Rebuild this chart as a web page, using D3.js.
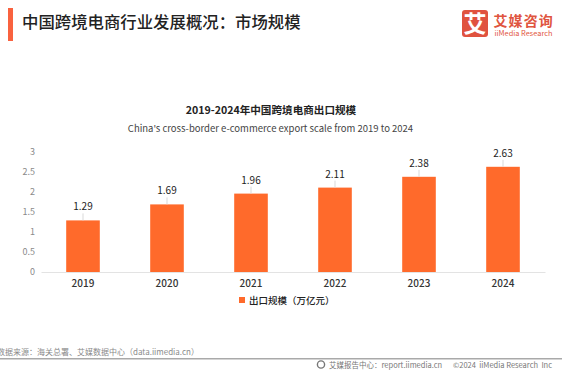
<!DOCTYPE html>
<html>
<head>
<meta charset="utf-8">
<script src="https://cdn.jsdelivr.net/npm/d3@7"></script>
<style>
html, body { margin: 0; padding: 0; background: #fff; }
svg { display: block; }
text { font-family: "Noto Sans CJK SC", "Noto Sans", sans-serif; white-space: pre; }
</style>
</head>
<body>
<div id="chart"></div>
<script>
var years = ['2019', '2020', '2021', '2022', '2023', '2024'];
var exportScale = [1.29, 1.69, 1.96, 2.11, 2.38, 2.63];
var yTicks = [0, 0.5, 1, 1.5, 2, 2.5, 3];

var pageTitle = '中国跨境电商行业发展概况：市场规模';
var chartTitle = '2019-2024年中国跨境电商出口规模';
var chartSubtitle = "China's cross-border e-commerce export scale from 2019 to 2024";
var legendLabel = '出口规模（万亿元）';
var sourceText = '数据来源：海关总署、艾媒数据中心（data.iimedia.cn）';
var footerText = '艾媒报告中心：report.iimedia.cn';
var copyrightText = '©2024  iiMedia Research  Inc';

var width = 562, height = 373;
var orange = '#ff6a2b';

var svg = d3.select('#chart').append('svg')
    .attr('width', width)
    .attr('height', height);

// page header
svg.append('rect').attr('x', 8).attr('y', 8).attr('width', 5).attr('height', 33).attr('fill', '#f9623f');
svg.append('text').attr('x', 22).attr('y', 28)
    .attr('font-size', 16.4).attr('font-weight', 500).attr('fill', '#222')
    .text(pageTitle);

// logo
svg.append('rect').attr('x', 462).attr('y', 10).attr('width', 26).attr('height', 27).attr('rx', 3).attr('fill', '#e0523f');
svg.append('text').attr('x', 475).attr('y', 32).attr('text-anchor', 'middle')
    .attr('font-size', 23).attr('font-weight', 700).attr('fill', '#fff').text('艾');
svg.append('text').attr('x', 493.5).attr('y', 25.5)
    .attr('font-size', 14).attr('font-weight', 700).attr('letter-spacing', 1.1).attr('fill', '#df5540').text('艾媒咨询');
svg.append('text').attr('x', 494.5).attr('y', 35.5)
    .attr('font-size', 7.4).attr('fill', '#df5540').text('iiMedia Research');

// chart titles
svg.append('text').attr('x', 271).attr('y', 114).attr('text-anchor', 'middle')
    .attr('font-size', 10.6).attr('font-weight', 700).attr('fill', '#222').text(chartTitle);
svg.append('text').attr('x', 270.5).attr('y', 132).attr('text-anchor', 'middle')
    .attr('font-size', 9.5).attr('fill', '#444').text(chartSubtitle);

var x = d3.scaleBand().domain(years).range([41, 545]).paddingInner(0.6).paddingOuter(0.3);
var y = d3.scaleLinear().domain([0, 3]).range([272, 152]);

// axes
var xAxis = svg.append('g')
    .attr('transform', 'translate(0,272)')
    .call(d3.axisBottom(x).tickSize(0).tickPadding(8));
xAxis.select('.domain').attr('stroke', '#e3e3e3');
xAxis.selectAll('text').attr('font-size', 10).attr('font-weight', 500).attr('fill', '#333')
    .style('font-family', '"Noto Sans CJK SC", "Noto Sans", sans-serif');

var yAxis = svg.append('g')
    .attr('transform', 'translate(35,0)')
    .call(d3.axisLeft(y).tickValues(yTicks).tickFormat(d3.format('')).tickSize(0).tickPadding(0));
yAxis.select('.domain').remove();
yAxis.selectAll('text').attr('font-size', 9).attr('fill', '#8a8a8a')
    .style('font-family', '"Noto Sans CJK SC", "Noto Sans", sans-serif');

// bars
svg.selectAll('.bar').data(exportScale).enter().append('rect')
    .attr('class', 'bar')
    .attr('x', function (d, i) { return x(years[i]); })
    .attr('y', function (d) { return y(d); })
    .attr('width', x.bandwidth())
    .attr('height', function (d) { return y(0) - y(d); })
    .attr('fill', orange);

// leader lines + labels
svg.selectAll('.leader').data(exportScale).enter().append('line')
    .attr('class', 'leader')
    .attr('x1', function (d, i) { return x(years[i]) + x.bandwidth() / 2; })
    .attr('x2', function (d, i) { return x(years[i]) + x.bandwidth() / 2; })
    .attr('y1', function (d) { return y(d); })
    .attr('y2', function (d) { return y(d) - 7; })
    .attr('stroke', '#d9d9d9');

svg.selectAll('.value').data(exportScale).enter().append('text')
    .attr('class', 'value')
    .attr('x', function (d, i) { return x(years[i]) + x.bandwidth() / 2; })
    .attr('y', function (d) { return y(d) - 10; })
    .attr('text-anchor', 'middle')
    .attr('font-size', 10).attr('fill', '#222')
    .text(function (d) { return d3.format('.2f')(d); });

// legend
svg.append('rect').attr('x', 239).attr('y', 297).attr('width', 6).attr('height', 6).attr('fill', orange);
svg.append('text').attr('x', 249).attr('y', 303.5)
    .attr('font-size', 9.5).attr('font-weight', 500).attr('fill', '#222').text(legendLabel);

// footer
svg.append('text').attr('x', -3).attr('y', 355)
    .attr('font-size', 8).attr('fill', '#8a8a8a').text(sourceText);
svg.append('rect').attr('x', 0).attr('y', 358).attr('width', width).attr('height', 1.5).attr('fill', '#a9a9a9');
svg.append('circle').attr('cx', 321).attr('cy', 364.5).attr('r', 3.6)
    .attr('fill', 'none').attr('stroke', '#777').attr('stroke-width', 1.4);
svg.append('text').attr('x', 329).attr('y', 368)
    .attr('font-size', 7.5).attr('fill', '#777').text(footerText);
svg.append('text').attr('x', 453).attr('y', 368)
    .attr('font-size', 7.5).attr('fill', '#777').text(copyrightText);
</script>
</body>
</html>
